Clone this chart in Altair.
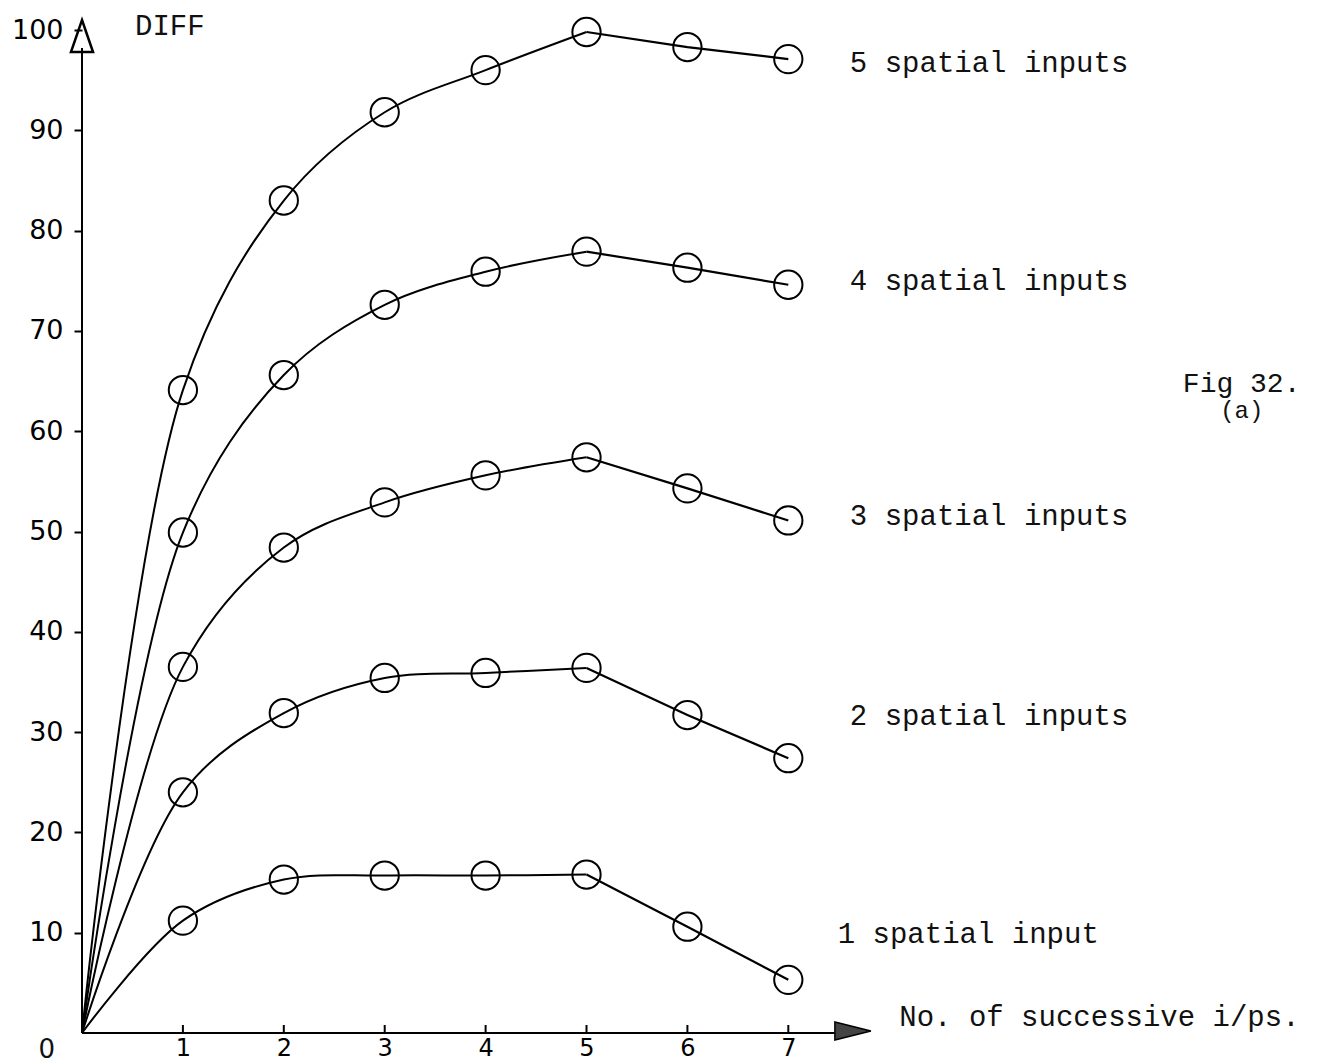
import altair as alt
import pandas as pd

# ---- data ----
steps = [1, 2, 3, 4, 5, 6, 7]
diff_1 = [11.2, 15.3, 15.7, 15.7, 15.8, 10.6, 5.3]
diff_2 = [24.0, 31.9, 35.4, 35.9, 36.4, 31.7, 27.4]
diff_3 = [36.5, 48.4, 52.9, 55.6, 57.4, 54.3, 51.1]
diff_4 = [49.9, 65.6, 72.6, 75.9, 77.9, 76.3, 74.6]
diff_5 = [64.1, 83.0, 91.8, 96.0, 99.8, 98.3, 97.1]
series_names = ["1 spatial input", "2 spatial inputs", "3 spatial inputs",
                "4 spatial inputs", "5 spatial inputs"]
x_tick_values = [1, 2, 3, 4, 5, 6, 7]
y_tick_values = [10, 20, 30, 40, 50, 60, 70, 80, 90, 100]
origin_value = 0
peak_step = 5  # curve is smooth up to here, straight segments afterwards

all_series = [diff_1, diff_2, diff_3, diff_4, diff_5]

# ---- tables ----
pts, curve, tail = [], [], []
for name, vals in zip(series_names, all_series):
    curve.append({"series": name, "step": 0, "diff": origin_value})
    for s, v in zip(steps, vals):
        pts.append({"series": name, "step": s, "diff": v})
        if s <= peak_step:
            curve.append({"series": name, "step": s, "diff": v})
        if s >= peak_step:
            tail.append({"series": name, "step": s, "diff": v})
pts = pd.DataFrame(pts)
curve = pd.DataFrame(curve)
tail = pd.DataFrame(tail)

# annotation placement (data units)
label_pos_x = [7.49, 7.61, 7.61, 7.61, 7.61]
label_pos_y = [9.0, 30.7, 50.6, 74.1, 95.8]
labels = pd.DataFrame({"text": series_names, "x": label_pos_x, "y": label_pos_y})

xscale = alt.Scale(domain=[0, 12.2], nice=False, zero=False)
yscale = alt.Scale(domain=[0, 100], nice=False, zero=False)

MONO = "Liberation Mono"
SANS = "DejaVu Sans"

xaxis = alt.Axis(values=x_tick_values, title=None, grid=False, domain=False,
                 tickSize=0, ticks=False, labelPadding=3, labelFont=SANS, labelFontSize=24,
                 labelColor="black", format="d")
yaxis = alt.Axis(values=y_tick_values, title=None, grid=False, domain=False,
                 tickSize=8, tickWidth=2, tickColor="black", labelPadding=11,
                 labelFont=SANS, labelFontSize=27, labelColor="black", format="d")


def X(field):
    return alt.X(field, scale=xscale, axis=xaxis)


def Y(field):
    return alt.Y(field, scale=yscale, axis=yaxis)


def XD(v):
    return alt.XDatum(v, scale=xscale, axis=xaxis)


def YD(v):
    return alt.YDatum(v, scale=yscale, axis=yaxis)


circles = alt.Chart(pts).mark_point(shape="circle", filled=False, size=800,
                                    stroke="black", strokeWidth=2, opacity=1).encode(
    x=X("step:Q"), y=Y("diff:Q"), detail="series:N")

curve_lines = alt.Chart(curve).mark_line(interpolate="catmull-rom", color="black",
                                         strokeWidth=2).encode(
    x=X("step:Q"), y=Y("diff:Q"), detail="series:N")
tail_lines = alt.Chart(tail).mark_line(color="black", strokeWidth=2.2).encode(
    x=X("step:Q"), y=Y("diff:Q"), detail="series:N")

one = pd.DataFrame({"a": [0]})
y_axis_line = alt.Chart(one).mark_rule(color="black", strokeWidth=2).encode(
    x=XD(0), y=YD(0), y2=alt.datum(98.2))
x_axis_line = alt.Chart(one).mark_rule(color="black", strokeWidth=2).encode(
    x=XD(0), x2=alt.datum(7.55), y=YD(0))

ticks_df = pd.DataFrame({"t": x_tick_values})
x_ticks = alt.Chart(ticks_df).mark_rule(color="black", strokeWidth=2).encode(
    x=X("t:Q"), y=YD(0), y2=alt.datum(0.8))

y_arrow = alt.Chart(one).mark_point(shape="M0,-1L0.69,1L-0.69,1Z", size=1024,
                                    filled=False, stroke="black", strokeWidth=2.5,
                                    opacity=1).encode(x=XD(0), y=YD(99.4))
x_arrow = alt.Chart(one).mark_point(shape="M1,0L-1,-0.5L-1,0.5Z", size=1296,
                                    filled=True, fill="#444", stroke="black",
                                    strokeWidth=1.5, opacity=1).encode(
    x=XD(7.64), y=YD(0.2))

series_text = alt.Chart(labels).mark_text(font=MONO, fontSize=29, align="left",
                                          baseline="alphabetic", color="#111").encode(
    x=X("x:Q"), y=Y("y:Q"), text="text:N")


def note(txt, x, y, size=29, font=MONO, align="left", baseline="alphabetic"):
    return alt.Chart(one).mark_text(text=txt, font=font, fontSize=size, align=align,
                                    baseline=baseline, color="#111").encode(
        x=XD(x), y=YD(y))


notes = [
    note("DIFF", 0.525, 99.5),
    note("No. of successive i/ps.", 8.1, 0.7),
    note("Fig 32.", 10.91, 63.9, size=28),
    note("(a)", 11.28, 61.3, size=24),
    note("0", -0.35, -1.7, size=26, font=SANS, align="center", baseline="middle"),
]

chart = alt.layer(circles, curve_lines, tail_lines, y_axis_line, x_axis_line, x_ticks,
                  y_arrow, x_arrow, series_text, *notes).properties(
    width=1231, height=1003,
    autosize=alt.AutoSizeParams(type="none"),
    padding={"left": 74, "top": 22, "right": 0, "bottom": 36},
    background="white",
).configure_view(stroke=None)

chart.save("out.html", embed_options={"renderer": "svg", "actions": False})
